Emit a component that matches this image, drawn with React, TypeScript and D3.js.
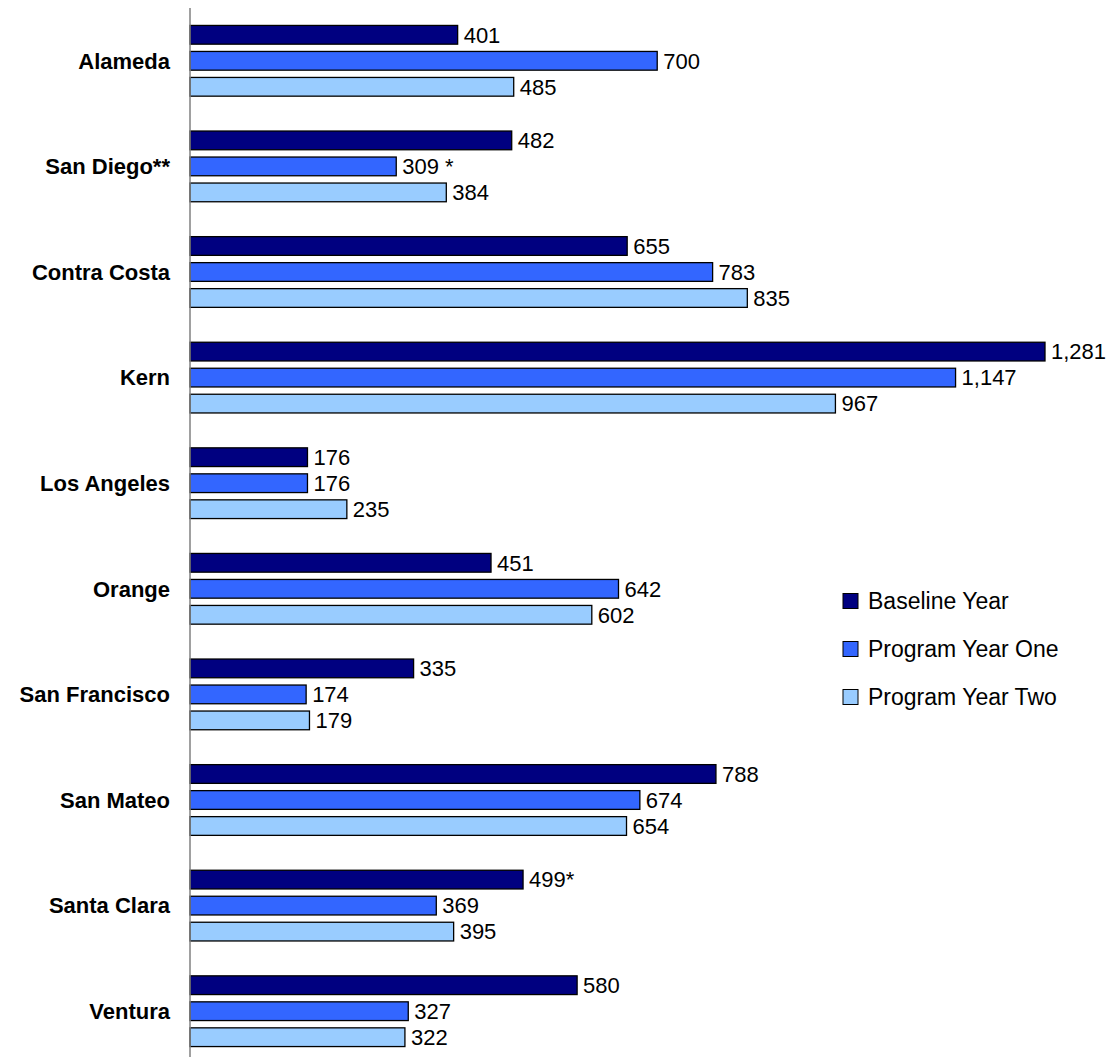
import React from "react";
import * as d3 from "d3";

const WIDTH = 1110;
const HEIGHT = 1057;

const counties = [
  "Alameda",
  "San Diego**",
  "Contra Costa",
  "Kern",
  "Los Angeles",
  "Orange",
  "San Francisco",
  "San Mateo",
  "Santa Clara",
  "Ventura",
];
const seriesNames = ["Baseline Year", "Program Year One", "Program Year Two"];
const seriesColors = ["#000080", "#3366FF", "#99CCFF"];
const baseline = [401, 482, 655, 1281, 176, 451, 335, 788, 499, 580];
const yearOne = [700, 309, 783, 1147, 176, 642, 174, 674, 369, 327];
const yearTwo = [485, 384, 835, 967, 235, 602, 179, 654, 395, 322];
// footnote marks that follow some value labels
const baselineNotes = ["", "", "", "", "", "", "", "", "*", ""];
const yearOneNotes = ["", " *", "", "", "", "", "", "", "", ""];
const yearTwoNotes = ["", "", "", "", "", "", "", "", "", ""];

const series = [baseline, yearOne, yearTwo];
const notes = [baselineNotes, yearOneNotes, yearTwoNotes];

const AXIS_X = 190;
const FONT = "'Liberation Sans', Arial, sans-serif";

const App = () => {
  const x = d3.scaleLinear().domain([0, 1281]).range([AXIS_X, 1045]);
  const y = d3.scaleBand().domain(counties).range([8, 1064]);
  const inner = d3.scaleBand().domain(["0", "1", "2"]).range([-39, 39]).paddingInner(0.28).paddingOuter(0.14);
  const fmt = d3.format(",");

  return (
    <svg
      width={WIDTH}
      height={HEIGHT}
      style={{ position: "absolute", left: 0, top: 0, background: "#fff" }}
      fontFamily={FONT}
    >
      {counties.map((c, i) => {
        const cy = (y(c) as number) + y.bandwidth() / 2;
        return (
          <g key={c}>
            <text x={170} y={cy} dy="0.35em" textAnchor="end" fontWeight="bold" fontSize={22}>
              {c}
            </text>
            {series.map((s, j) => {
              const by = cy + (inner(String(j)) as number);
              const bh = inner.bandwidth();
              return (
                <g key={j}>
                  <rect
                    x={x(0)}
                    y={by}
                    width={x(s[i]) - x(0)}
                    height={bh}
                    fill={seriesColors[j]}
                    stroke="#000"
                    strokeWidth={1.3}
                  />
                  <text x={x(s[i]) + 6} y={by + bh / 2} dy="0.35em" fontSize={22}>
                    {fmt(s[i]) + notes[j][i]}
                  </text>
                </g>
              );
            })}
          </g>
        );
      })}
      <line x1={AXIS_X} x2={AXIS_X} y1={8} y2={HEIGHT} stroke="#808080" strokeWidth={1.5} />
      {seriesNames.map((n, j) => (
        <g key={n} transform={`translate(843, ${601 + j * 48})`}>
          <rect x={0} y={-7.5} width={15} height={15} fill={seriesColors[j]} stroke="#000" strokeWidth={1} />
          <text x={25} y={0} dy="0.35em" fontSize={23}>
            {n}
          </text>
        </g>
      ))}
    </svg>
  );
};

export default App;
